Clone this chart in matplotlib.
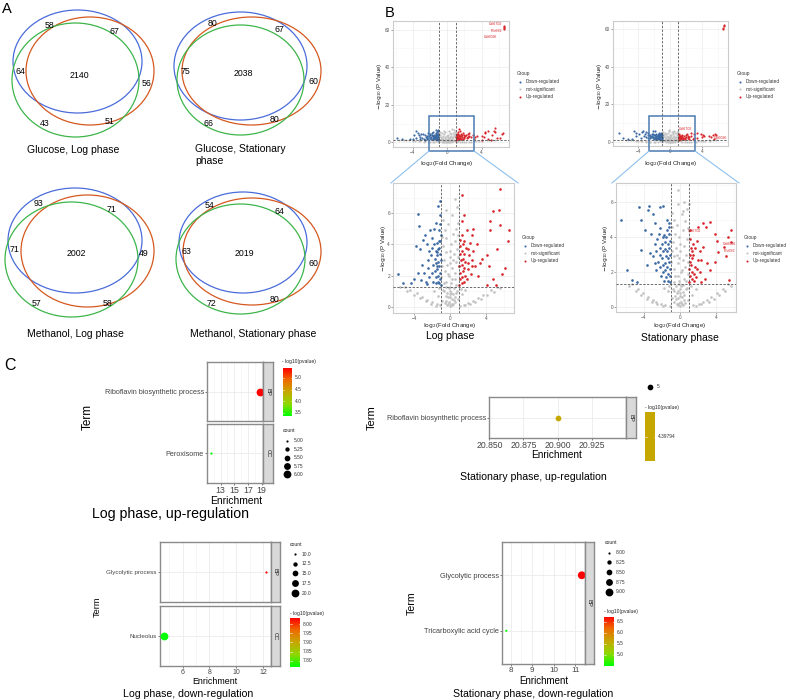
import numpy as np
import matplotlib.pyplot as plt
from matplotlib.patches import Ellipse, Rectangle
from matplotlib.colors import LinearSegmentedColormap

plt.rcParams['font.family'] = ['Liberation Sans', 'DejaVu Sans']

# ---------------- data ----------------
venn_titles = ["Glucose, Log phase", "Glucose, Stationary\nphase",
               "Methanol, Log phase", "Methanol, Stationary phase"]
venn_counts = [[58, 67, 64, 2140, 56, 43, 51],
               [80, 67, 75, 2038, 60, 66, 80],
               [93, 71, 71, 2002, 49, 57, 58],
               [54, 64, 63, 2019, 60, 72, 80]]

groups = ["Down-regulated", "not-significant", "Up-regulated"]

# volcano points (log2 fold change, -log10 p)
log_down = [(-1.05, 1.4), (-1.1, 1.8), (-1.15, 2.2), (-1.2, 2.6), (-1.05, 3.0), (-1.1, 3.4), (-1.2, 3.8),
            (-1.1, 4.2), (-1.05, 4.6), (-1.3, 1.6), (-1.35, 2.0), (-1.4, 2.4), (-1.3, 2.9), (-1.45, 3.3),
            (-1.35, 3.7), (-1.5, 4.1), (-1.25, 4.9), (-1.55, 1.5), (-1.6, 1.9), (-1.65, 2.3), (-1.55, 2.8),
            (-1.7, 3.1), (-1.6, 3.6), (-1.75, 4.0), (-1.15, 5.3), (-1.1, 5.9), (-1.3, 6.5), (-1.1, 6.8),
            (-1.9, 1.6), (-2.0, 2.2), (-1.9, 2.7), (-2.1, 3.3), (-1.95, 3.8), (-2.0, 4.4), (-1.8, 5.0),
            (-1.6, 5.4), (-2.3, 1.9), (-2.4, 2.5), (-2.5, 3.0), (-2.3, 3.6), (-2.6, 4.0), (-2.8, 4.6),
            (-2.2, 4.9), (-2.7, 1.6), (-2.9, 2.2), (-3.1, 2.7), (-3.3, 3.7), (-3.0, 4.3), (-3.4, 5.2),
            (-3.6, 5.95), (-3.6, 2.2), (-3.8, 3.9), (-4.0, 1.8), (-4.3, 1.5), (-5.2, 1.5), (-5.8, 2.1),
            (-2.6, 1.45), (-3.2, 1.7), (-1.2, 1.5), (-1.4, 3.5), (-1.25, 4.2), (-1.5, 2.6)]
log_up = [(1.05, 1.4), (1.1, 1.8), (1.15, 2.2), (1.05, 2.6), (1.2, 3.0), (1.1, 3.4), (1.15, 3.9),
          (1.1, 4.3), (1.3, 1.5), (1.35, 1.9), (1.4, 2.3), (1.3, 2.7), (1.45, 3.1), (1.35, 3.6),
          (1.4, 4.0), (1.3, 4.6), (1.6, 1.6), (1.65, 2.0), (1.55, 2.5), (1.7, 2.9), (1.6, 3.4),
          (1.75, 3.8), (1.6, 4.2), (1.85, 4.9), (1.9, 1.8), (2.0, 2.4), (1.95, 2.8), (2.1, 3.3),
          (2.0, 3.7), (2.2, 4.1), (2.3, 2.1), (2.4, 3.0), (2.45, 2.6), (2.6, 3.6), (2.5, 5.0),
          (2.4, 4.6), (1.3, 5.5), (1.5, 5.9), (1.35, 7.2), (2.8, 2.6), (3.0, 4.0), (3.15, 2.0),
          (3.3, 2.8), (3.5, 3.1), (4.1, 3.3), (4.3, 2.6), (4.1, 1.4), (4.4, 4.9), (4.8, 1.8),
          (5.1, 1.4), (4.8, 6.15), (5.4, 6.2), (4.4, 5.5), (5.6, 5.25), (5.2, 3.7), (5.8, 2.1),
          (6.1, 2.5), (6.4, 4.2), (6.55, 4.9), (5.6, 7.55),
          (6.62, 60.2), (6.62, 60.9), (6.62, 61.6), (6.64, 62.2)]
log_ns = [(0.0, 0.05), (0.1, 0.2), (-0.1, 0.3), (0.2, 0.5), (-0.2, 0.6), (0.3, 0.8), (-0.3, 0.9), (0.0, 1.0),
          (0.4, 1.2), (-0.4, 1.3), (0.1, 1.5), (-0.5, 1.6), (0.5, 1.8), (-0.1, 2.0), (0.6, 2.2), (-0.6, 2.3),
          (0.2, 2.5), (-0.3, 2.7), (0.7, 2.9), (-0.7, 3.0), (0.0, 3.2), (0.4, 3.4), (-0.5, 3.5), (0.8, 3.7),
          (-0.8, 3.9), (0.1, 4.0), (0.5, 4.2), (-0.4, 4.4), (0.3, 4.7), (-0.6, 4.9), (0.7, 5.0), (-0.2, 5.3),
          (0.9, 5.4), (-0.8, 5.6), (0.2, 5.9), (0.8, 6.4), (-0.4, 6.2), (0.6, 6.9), (-0.9, 0.4), (0.9, 0.5),
          (-0.8, 1.1), (0.8, 1.0), (-0.95, 1.9), (0.95, 2.6), (-0.9, 2.6), (0.9, 3.2), (-0.9, 4.5), (0.9, 4.6),
          (0.0, 0.6), (0.15, 0.9), (-0.15, 1.2), (0.25, 1.8), (-0.25, 2.1), (0.05, 2.8), (-0.05, 3.6),
          (0.3, 3.0), (-0.35, 0.1), (0.35, 0.15), (-0.6, 0.25), (0.6, 0.3), (-0.5, 0.7), (0.5, 0.6),
          (-0.2, 0.15), (0.2, 0.1), (0.45, 0.45), (-0.45, 0.4), (0.7, 1.4), (-0.7, 1.5), (0.05, 1.3),
          (-0.05, 0.8), (0.65, 0.9), (-0.65, 1.0),
          (-5.0, 1.3), (-4.4, 1.1), (-3.7, 0.86), (-3.1, 0.65), (-2.6, 0.43), (-2.0, 0.28), (-1.5, 0.15),
          (-1.1, 0.1), (-5.6, 1.25), (-4.8, 1.0), (-4.0, 0.75), (-3.3, 0.55), (-2.7, 0.35), (-2.1, 0.2),
          (-1.6, 0.08), (5.2, 1.3), (4.6, 1.1), (3.7, 0.75), (3.1, 0.58), (2.6, 0.39), (2.0, 0.25),
          (1.5, 0.14), (1.15, 0.08), (5.6, 1.2), (4.9, 0.98), (4.1, 0.78), (3.4, 0.52), (2.8, 0.32),
          (2.2, 0.2), (1.7, 0.09), (-1.3, 0.7), (1.3, 0.8), (-1.8, 1.0), (1.7, 1.1), (-1.2, 1.2), (1.2, 1.15)]

stat_down = [(-1.05, 1.4), (-1.1, 1.8), (-1.05, 2.2), (-1.15, 2.6), (-1.1, 3.0), (-1.2, 3.4), (-1.05, 3.8),
             (-1.15, 4.2), (-1.2, 4.6), (-1.3, 1.5), (-1.35, 1.9), (-1.4, 2.3), (-1.3, 2.8), (-1.45, 3.2),
             (-1.35, 3.6), (-1.5, 4.0), (-1.4, 4.4), (-1.55, 1.7), (-1.6, 2.1), (-1.65, 2.5), (-1.55, 2.9),
             (-1.7, 3.3), (-1.6, 3.7), (-1.75, 4.1), (-1.8, 1.5), (-1.85, 2.0), (-1.9, 2.4), (-1.95, 2.8),
             (-1.85, 3.2), (-2.0, 3.6), (-1.9, 4.0), (-2.05, 1.8), (-2.2, 2.3), (-2.15, 3.0), (-2.25, 3.4),
             (-2.4, 2.6), (-2.5, 3.9), (-2.35, 4.2), (-2.6, 3.2), (-2.8, 3.6), (-2.6, 2.1), (-2.8, 2.5),
             (-3.0, 2.9), (-1.2, 4.8), (-1.4, 5.0), (-1.9, 5.8), (-2.2, 5.75), (-2.2, 4.5), (-2.8, 4.8),
             (-3.0, 5.35), (-3.2, 4.2), (-3.35, 3.1), (-3.5, 5.55), (-3.45, 5.77), (-3.7, 2.4), (-3.9, 4.4),
             (-4.3, 4.97), (-4.35, 3.25), (-4.5, 5.7), (-4.8, 1.45), (-5.3, 1.55), (-5.9, 2.1), (-6.5, 4.97)]
stat_up = [(1.05, 1.4), (1.1, 1.8), (1.05, 2.2), (1.15, 2.6), (1.1, 3.0), (1.2, 3.4), (1.1, 3.9),
           (1.12, 4.4), (1.3, 1.6), (1.35, 2.0), (1.25, 2.4), (1.4, 2.8), (1.3, 3.2), (1.45, 3.6),
           (1.55, 1.5), (1.6, 1.9), (1.65, 2.3), (1.5, 3.0), (1.7, 3.4), (1.85, 1.7), (1.9, 2.2),
           (1.95, 3.8), (2.0, 2.7), (2.2, 3.2), (2.25, 2.0), (2.4, 2.7), (2.6, 3.45), (2.04, 4.6),
           (2.6, 4.8), (2.95, 4.6), (3.35, 4.85), (3.0, 2.5), (3.35, 2.1), (3.9, 4.2), (3.95, 2.6),
           (4.1, 3.8), (4.2, 3.15), (4.9, 3.45), (5.1, 2.9), (5.4, 4.0), (5.65, 4.4), (5.45, 1.55),
           (5.7, 3.7), (2.8, 1.6), (2.4, 1.45),
           (6.68, 60.0), (6.68, 60.7), (6.7, 61.4), (6.7, 62.0)]
stat_ns = [(0.0, 0.05), (-0.1, 0.2), (0.1, 0.3), (-0.2, 0.5), (0.2, 0.55), (-0.3, 0.8), (0.3, 0.85),
           (0.0, 1.0), (-0.4, 1.2), (0.4, 1.25), (-0.1, 1.5), (0.5, 1.6), (-0.5, 1.8), (0.1, 2.0),
           (-0.6, 2.2), (0.6, 2.3), (-0.2, 2.5), (0.3, 2.7), (-0.7, 2.9), (0.7, 3.0), (0.0, 3.2),
           (-0.4, 3.4), (0.5, 3.5), (-0.8, 3.7), (0.8, 3.9), (-0.1, 4.0), (-0.5, 4.2), (0.4, 4.4),
           (-0.3, 4.7), (0.6, 4.9), (-0.7, 5.0), (0.2, 5.3), (-0.9, 5.4), (0.8, 5.6), (-0.2, 5.9),
           (0.45, 6.0), (-0.15, 6.7), (0.4, 5.5), (0.9, 0.4), (-0.9, 0.5), (0.8, 1.1), (-0.8, 1.0),
           (0.95, 1.9), (-0.95, 2.6), (0.9, 2.6), (-0.9, 3.2), (0.9, 4.5), (-0.9, 4.6), (0.0, 0.6),
           (-0.15, 0.9), (0.15, 1.2), (-0.25, 1.8), (0.25, 2.1), (-0.05, 2.8), (0.05, 3.6), (-0.3, 3.0),
           (0.35, 0.1), (-0.35, 0.15), (0.6, 0.25), (-0.6, 0.3), (0.5, 0.7), (-0.5, 0.6), (0.2, 0.15),
           (-0.2, 0.1), (-0.45, 0.45), (0.45, 0.4), (-0.7, 1.4), (0.7, 1.5), (-0.05, 1.3), (0.05, 0.8),
           (-0.65, 0.9), (0.65, 1.0), (1.0, 5.9),
           (-5.3, 1.3), (-4.7, 1.05), (-4.1, 0.77), (-3.5, 0.55), (-3.0, 0.4), (-2.6, 0.29), (-2.1, 0.17),
           (-1.6, 0.09), (-1.1, 0.04), (-5.6, 1.2), (-4.9, 0.92), (-4.3, 0.68), (-3.7, 0.45), (-3.1, 0.3),
           (-2.5, 0.18), (-1.9, 0.08), (5.4, 1.3), (4.8, 1.05), (4.1, 0.77), (3.5, 0.55), (3.0, 0.4),
           (2.6, 0.29), (2.1, 0.18), (1.5, 0.1), (5.7, 1.2), (5.0, 0.9), (4.4, 0.66), (3.8, 0.46),
           (3.2, 0.3), (2.4, 0.15), (1.8, 0.06), (-1.3, 0.9), (1.3, 0.7), (-1.8, 1.1), (1.8, 1.05),
           (-1.2, 1.2), (1.2, 1.2)]

log_genes = ["Cel6702", "Pfo682", "Cel6026"]
log_gene_xy = [(5.66, 62.9), (5.74, 59.3), (5.05, 55.9)]
stat_genes_inset = ["Cel6702", "Cel6026", "Pfo682"]
stat_gene_inset_xy = [(1.67, 4.36), (5.5, 3.6), (5.5, 3.19)]
stat_genes_over = ["Cel6702", "Cel6026"]
stat_gene_over_xy = [(1.9, 7.0), (6.3, 2.2)]

# enrichment (panel C)
c1_terms = ["Riboflavin biosynthetic process", "Peroxisome"]
c1_ont = ["BP", "CC"]
c1_enrich = [18.8, 11.6]
c1_pval = [5.43, 3.36]
c1_count = [6, 5]
c1_pticks = [5.0, 4.5, 4.0, 3.5]
c1_cbreaks = [5.00, 5.25, 5.50, 5.75, 6.00]

c2_terms = ["Riboflavin biosynthetic process"]
c2_enrich = [20.9]
c2_pval = [4.39794]
c2_count = [5]

c3_terms = ["Glycolytic process", "Nucleolus"]
c3_ont = ["BP", "CC"]
c3_enrich = [12.25, 4.6]
c3_pval = [8.031, 7.768]
c3_count = [10, 20]
c3_pticks = [8.00, 7.95, 7.90, 7.85, 7.80]
c3_cbreaks = [10.0, 12.5, 15.0, 17.5, 20.0]

c4_terms = ["Glycolytic process", "Tricarboxylic acid cycle"]
c4_enrich = [11.3, 7.8]
c4_pval = [6.727, 4.5]
c4_count = [9, 8]
c4_pticks = [6.5, 6.0, 5.5, 5.0]
c4_cbreaks = [8.00, 8.25, 8.50, 8.75, 9.00]

# ---------------- figure ----------------
W, H = 790, 700
fig = plt.figure(figsize=(W / 100, H / 100), dpi=100)


def px_axes(l, t, r, b, **kw):
    return fig.add_axes([l / W, 1 - b / H, (r - l) / W, (b - t) / H], **kw)


over = px_axes(0, 0, W, H, zorder=10)
over.set_xlim(0, W)
over.set_ylim(H, 0)
over.axis('off')


def txt(x, y, s, size, ha='center', va='center', **kw):
    over.text(x, y, s, fontsize=size, ha=ha, va=va, **kw)


# panel letters
txt(2, 9, "A", 10.5, ha='left')
txt(385, 13, "B", 10.5, ha='left')
txt(4, 366, "C", 11.5, ha='left')

# ---------------- A: venn ----------------
VBLUE, VORANGE, VGREEN = '#4A6CDA', '#D5581F', '#3DB54A'
venn_ellipses = [
    [(77.5, 61.5, 129, 103), (90, 71, 128, 108), (75.5, 80, 127, 114)],
    [(240.5, 66, 133, 108), (251.5, 71, 139, 108), (240.5, 80, 127, 110)],
    [(75, 240.5, 134, 105), (87.5, 251, 133, 112), (71.5, 259.5, 133, 115)],
    [(243, 242.5, 128, 101), (252, 251.5, 138, 107), (240.5, 259, 129, 110)],
]
venn_num_pos = [
    [(50, 26), (114, 32), (20, 72), (79, 75), (147, 83), (45, 124), (110, 121)],
    [(213, 24), (279, 30), (185, 72), (243, 74), (313, 82), (209, 124), (275, 120)],
    [(39, 203), (112, 209), (15, 250), (76, 254), (144, 253), (37, 304), (108, 303)],
    [(210, 206), (279, 211), (186, 251), (244, 254), (313, 263), (211, 304), (275, 300)],
]
venn_title_pos = [(27, 150), (195, 155), (27, 334), (190, 334)]

for ells, nums, pos, title, tpos in zip(venn_ellipses, venn_counts, venn_num_pos,
                                        venn_titles, venn_title_pos):
    for (cx, cy, w, h), col in zip(ells, (VBLUE, VORANGE, VGREEN)):
        over.add_patch(Ellipse((cx, cy), w, h, fill=False, ec=col, lw=0.9))
    for n, (x, y) in zip(nums, pos):
        txt(x, y, str(n), 6.3)
    txt(tpos[0], tpos[1], title, 7.5, ha='left', linespacing=1.15)

# ---------------- B: volcano ----------------
BLUE, RED, GRAY = '#3A68A3', '#D7262B', '#C2C2C2'


def volcano(rect, xlim, ylim, yticks, yminor, down, ns, up, ms):
    ax = px_axes(*rect)
    for pts, col in ((ns, GRAY), (down, BLUE), (up, RED)):
        p = np.array(pts)
        ax.scatter(p[:, 0], p[:, 1], s=ms, c=col, lw=0, zorder=3)
    for xv in (-1, 1):
        ax.axvline(xv, color='#444444', lw=0.55, ls=(0, (3, 2)), zorder=4)
    ax.axhline(-np.log10(0.05), color='#444444', lw=0.55, ls=(0, (3, 2)), zorder=4)
    ax.set_xlim(xlim)
    ax.set_ylim(ylim)
    ax.set_xticks([-4, 0, 4])
    ax.set_xticks([-6, -2, 2, 6], minor=True)
    ax.set_yticks(yticks)
    ax.set_yticks(yminor, minor=True)
    ax.tick_params(labelsize=3.4, length=1.2, width=0.4, colors='#555555', pad=1)
    ax.tick_params(which='minor', length=0)
    ax.grid(which='major', color='#EBEBEB', lw=0.5)
    ax.grid(which='minor', color='#F5F5F5', lw=0.4)
    ax.set_axisbelow(True)
    for s in ax.spines.values():
        s.set_color('#CCCCCC')
        s.set_linewidth(0.8)
    return ax


def group_legend(x, y):
    txt(x, y, "Group", 3.4, ha='left', color='#333333')
    for k, (g, col) in enumerate(zip(groups, (BLUE, GRAY, RED))):
        yy = y + 8.5 + 7.7 * k
        over.scatter(x + 3, yy, s=2.2, c=col, lw=0)
        txt(x + 9, yy, g, 3.4, ha='left', color='#333333')


xlab = r'$\log_2$(Fold Change)'
ylab = r'$-\log_{10}$(P Value)'

# log phase overview + inset
ax = volcano((393, 21, 509, 147), (-6.3, 7.2), (-2.5, 64.6), [0, 20, 40, 60], [10, 30, 50],
             log_down, log_ns, log_up, 2.4)
for g, (gx, gy) in zip(log_genes, log_gene_xy):
    ax.text(gx, gy, g, fontsize=2.6, color=RED, ha='center', va='center')
ax = volcano((393, 183, 514, 313), (-6.33, 7.1), (-0.4, 7.95), [0, 2, 4, 6], [1, 3, 5, 7],
             log_down, log_ns, log_up, 3.6)

# stationary overview + inset
ax = volcano((613, 21, 728, 146), (-7.2, 7.25), (-2.0, 64.2), [0, 20, 40, 60], [10, 30, 50],
             stat_down, stat_ns, stat_up, 2.4)
for g, (gx, gy) in zip(stat_genes_over, stat_gene_over_xy):
    ax.text(gx, gy, g, fontsize=2.6, color=RED, ha='center', va='center')
ax = volcano((616, 183, 736, 312), (-7.1, 6.25), (-0.29, 7.1), [0, 2, 4, 6], [1, 3, 5, 7],
             stat_down, stat_ns, stat_up, 3.6)
for g, (gx, gy) in zip(stat_genes_inset, stat_gene_inset_xy):
    ax.text(gx, gy, g, fontsize=2.6, color=RED, ha='center', va='center')

# axis labels
for x, y in ((447, 163), (671, 163), (450, 326), (680, 326)):
    txt(x, y, xlab, 4.3, color='#222222')
for x, y in ((379, 86), (600, 86), (383, 248), (606, 248)):
    txt(x, y, ylab, 4.3, rotation=90, color='#222222')

group_legend(517, 73)
group_legend(737, 73)
group_legend(522, 237)
group_legend(744, 237)

# zoom boxes and connectors
BOX, LINK = '#4A7BB0', '#8EC0EE'
for (l, t, r, b), (il, ir) in (((429, 116, 474, 151), (391, 518)),
                               ((649, 116, 695, 151), (612, 739))):
    over.add_patch(Rectangle((l, t), r - l, b - t, fill=False, ec=BOX, lw=1.1))
    over.plot([l, il], [b, 183], color=LINK, lw=0.8)
    over.plot([r, ir], [b, 183], color=LINK, lw=0.8)

txt(450, 336, "Log phase", 7.5)
txt(680, 338, "Stationary phase", 7.5)

# ---------------- C: enrichment ----------------
cmap = LinearSegmentedColormap.from_list(
    'gr', ['#00FF00', '#8ED800', '#C6A800', '#EE6C00', '#FF0000'])
BORDER = '#8A8A8A'


def frac(v, rng):
    lo, hi = rng
    return 0.5 if hi == lo else (v - lo) / (hi - lo)


def dot_size(c, crange):
    d = np.sqrt(2.2 ** 2 + (7.8 ** 2 - 2.2 ** 2) * frac(c, crange))
    return (d * 0.72) ** 2


def facet(rect, strip_w, strip_label, xlim, xmaj, xmin, terms, xs, pv, cnt, prange, crange,
          term_size, tick_size, show_x):
    l, t, r, b = rect
    ax = px_axes(l, t, r, b)
    n = len(terms)
    ys = np.arange(1, n + 1)
    cols = [cmap(frac(v, prange)) for v in pv]
    sizes = [dot_size(c, crange) for c in cnt]
    ax.scatter(xs, ys, s=sizes, c=cols, lw=0, zorder=3)
    ax.set_xlim(xlim)
    ax.set_ylim(n + 0.6, 0.4)
    ax.set_yticks(ys)
    ax.set_yticklabels(terms, fontsize=term_size, color='#1A1A1A')
    ax.set_xticks(xmaj)
    ax.set_xticks(xmin, minor=True)
    if show_x:
        ax.set_xticklabels([f"{v:g}" if isinstance(v, int) else f"{v:.3f}" for v in xmaj],
                           fontsize=tick_size, color='#333333')
    else:
        ax.set_xticklabels([])
    ax.tick_params(length=1.5, width=0.5, colors='#444444', pad=0.8)
    ax.tick_params(axis='x', length=1.5 if show_x else 0)
    ax.tick_params(which='minor', length=0)
    ax.grid(which='major', color='#EBEBEB', lw=0.6)
    ax.grid(which='minor', axis='x', color='#F3F3F3', lw=0.45)
    ax.set_axisbelow(True)
    for s in ax.spines.values():
        s.set_color(BORDER)
        s.set_linewidth(1.0)
    sax = px_axes(r, t, r + strip_w, b)
    sax.set_facecolor('#D9D9D9')
    sax.set_xticks([])
    sax.set_yticks([])
    for s in sax.spines.values():
        s.set_color(BORDER)
        s.set_linewidth(1.0)
    sax.text(0.5, 0.5, strip_label, rotation=270, ha='center', va='center',
             fontsize=4.2, color='#1A1A1A', transform=sax.transAxes)
    return ax


def colorbar(rect, prange, ticks, labels, title, title_xy):
    cax = px_axes(*rect)
    lo, hi = prange
    if hi == lo:
        lo, hi = lo - 0.5, hi + 0.5
        grad = np.full((256, 1), 0.5)
    else:
        grad = np.linspace(1, 0, 256)[:, None]
    cax.imshow(grad, cmap=cmap, vmin=0, vmax=1, aspect='auto', extent=(0, 1, lo, hi),
               interpolation='bilinear')
    cax.set_xlim(0, 1)
    cax.set_ylim(lo, hi)
    cax.axis('off')
    tr = cax.get_yaxis_transform()
    for tv, lab in zip(ticks, labels):
        cax.plot([0, 0.15], [tv, tv], color='white', lw=0.4)
        cax.plot([0.85, 1], [tv, tv], color='white', lw=0.4)
        cax.text(1.3, tv, lab, transform=tr, fontsize=3.5, va='center', ha='left', color='#333333')
    txt(title_xy[0], title_xy[1], title, 3.6, ha='left', color='#222222')


def size_legend(x, y0, ys, values, labels, crange, title=True):
    if title:
        txt(x, y0, "count", 3.6, ha='left', color='#222222')
    for yy, v, lab in zip(ys, values, labels):
        over.scatter(x + 4.5, yy, s=dot_size(v, crange), c='black', lw=0)
        txt(x + 11.5, yy, lab, 3.5, ha='left', color='#333333')


# C1: log phase, up-regulation (two facets)
c1_prange = (min(c1_pval), max(c1_pval))
c1_crange = (min(c1_count), max(c1_count))
for k, (t, b) in enumerate(((362, 421), (424, 483))):
    facet((207, t, 263, b), 10, c1_ont[k], (11.0, 19.2), [13, 15, 17, 19], [12, 14, 16, 18],
          [c1_terms[k]], [c1_enrich[k]], [c1_pval[k]], [c1_count[k]], c1_prange, c1_crange,
          5.2, 6.3, k == 1)
colorbar((283, 368, 292, 416), c1_prange, c1_pticks, [f"{v:.1f}" for v in c1_pticks],
         "- log10(pvalue)", (282, 362))
size_legend(282.5, 431, [441, 449.3, 457.7, 466, 474.3], c1_cbreaks,
            [f"{v:.2f}" for v in c1_cbreaks], c1_crange)
txt(236, 501, "Enrichment", 7.4)
txt(88, 417, "Term", 8.5, rotation=90)
txt(170, 514, "Log phase, up-regulation", 10.2)

# C2: stationary phase, up-regulation
c2_prange = (min(c2_pval), max(c2_pval))
c2_crange = (min(c2_count), max(c2_count))
facet((489, 397, 626, 438), 10, "BP", (20.8497, 20.9503), [20.850, 20.875, 20.900, 20.925], [],
      c2_terms, c2_enrich, c2_pval, c2_count, c2_prange, c2_crange, 5.2, 6.2, True)
colorbar((645, 412, 655, 461), c2_prange, c2_pval, [f"{v:g}" for v in c2_pval],
         "- log10(pvalue)", (645, 408))
size_legend(645.5, 378, [387], c2_count, [str(v) for v in c2_count], c2_crange, title=False)
txt(557, 455, "Enrichment", 7.2)
txt(372, 418, "Term", 8.0, rotation=90)
txt(533, 477, "Stationary phase, up-regulation", 7.6)

# C3: log phase, down-regulation (two facets)
c3_prange = (min(c3_pval), max(c3_pval))
c3_crange = (min(c3_count), max(c3_count))
for k, (t, b) in enumerate(((542, 602), (606, 666))):
    facet((160, t, 271, b), 9, c3_ont[k], (4.3, 12.6), [6, 8, 10, 12], [5, 7, 9, 11],
          [c3_terms[k]], [c3_enrich[k]], [c3_pval[k]], [c3_count[k]], c3_prange, c3_crange,
          4.5, 5.0, k == 1)
size_legend(290, 544, [554, 563.5, 573.3, 583.3, 593.3], c3_cbreaks,
            [f"{v:.1f}" for v in c3_cbreaks], c3_crange)
colorbar((290, 618.3, 300, 666.7), c3_prange, c3_pticks, [f"{v:.2f}" for v in c3_pticks],
         "- log10(pvalue)", (290, 614))
txt(215, 681, "Enrichment", 6.4)
txt(97, 607, "Term", 6.6, rotation=90)
txt(188, 694, "Log phase, down-regulation", 7.6)

# C4: stationary phase, down-regulation (one facet)
c4_prange = (min(c4_pval), max(c4_pval))
c4_crange = (min(c4_count), max(c4_count))
facet((502, 542, 585, 664), 9, "BP", (7.6, 11.45), [8, 9, 10, 11], [8.5, 9.5, 10.5],
      c4_terms, c4_enrich, c4_pval, c4_count, c4_prange, c4_crange, 5.3, 5.8, True)
size_legend(604.3, 542.7, [552.7, 562.3, 572.3, 582.3, 591.7], c4_cbreaks,
            [f"{v:.2f}" for v in c4_cbreaks], c4_crange)
colorbar((604.3, 616.7, 614, 666), c4_prange, c4_pticks, [f"{v:.1f}" for v in c4_pticks],
         "- log10(pvalue)", (604, 611.7))
txt(544, 681, "Enrichment", 7.0)
txt(412, 603, "Term", 7.6, rotation=90)
txt(533, 694, "Stationary phase, down-regulation", 7.6)

fig.savefig("out.png", dpi=100)
